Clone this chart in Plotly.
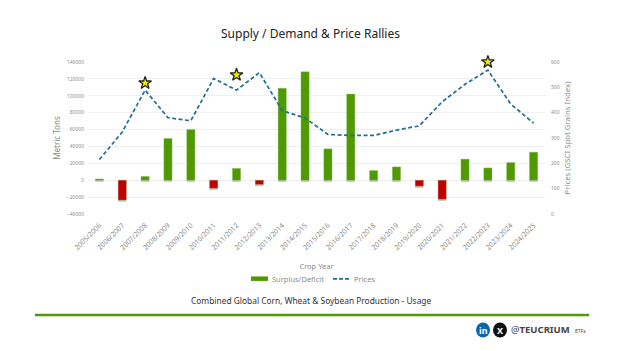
import plotly.graph_objects as go

W, H = 624, 351
L, R, T, B = 88, 545, 62, 213.7

years = ["2005/2006","2006/2007","2007/2008","2008/2009","2009/2010","2010/2011","2011/2012",
         "2012/2013","2013/2014","2014/2015","2015/2016","2016/2017","2017/2018","2018/2019",
         "2019/2020","2020/2021","2021/2022","2022/2023","2023/2024","2024/2025"]
surplus = [1500,-23500,4500,49500,60000,-9500,14000,-5000,109000,128500,37200,102000,11500,
           15800,-7000,-22500,25000,14600,21000,33200]
prices = [215,324,489,380,368,535,489,558,408,379,314,310,310,331,348,443,512,568,434,359]
star_years = ["2007/2008","2011/2012","2022/2023"]
star_levels = [517,549,600]
left_ticks = [-40000,-20000,0,20000,40000,60000,80000,100000,120000,140000]
right_ticks = [0,100,200,300,400,500,600]

GREEN, RED, BLUE, GREY = "#4F9A00", "#C00000", "#1F6E96", "#8C8C8C"
FONT = "Noto Sans"

def px(x): return (x - L) / (R - L)
def py(y): return (B - y) / (B - T)

fig = go.Figure()
# soft drop shadow under each bar
fig.add_trace(go.Bar(x=years, y=[v - 2000 if v < 0 else -2000 for v in surplus],
                     marker=dict(color="rgba(110,110,110,0.4)", line_width=0),
                     showlegend=False, hoverinfo="skip", width=0.36, offsetgroup="a"))
fig.add_trace(go.Bar(x=years, y=surplus, name="Surplus/Deficit", showlegend=False,
                     marker=dict(color=[GREEN if v >= 0 else RED for v in surplus],
                                 line=dict(color="rgba(150,190,110,0.5)", width=0.7)),
                     width=0.36, offsetgroup="a"))
fig.add_trace(go.Scatter(x=years, y=prices, name="Prices", yaxis="y2", mode="lines", showlegend=False,
                         line=dict(color=BLUE, width=1.7, dash="4px,2.5px")))
fig.add_trace(go.Scatter(x=star_years, y=star_levels, yaxis="y2", mode="markers", showlegend=False,
                         cliponaxis=False,
                         marker=dict(symbol="star", size=9.5, color="#F0F000",
                                     line=dict(color="#222222", width=1.3))))

shapes = [
    dict(type="line", xref="paper", yref="paper", x0=px(35), x1=px(589), y0=py(314.5), y1=py(314.5),
         line=dict(color=GREEN, width=2.6)),
    dict(type="circle", xref="paper", yref="paper", x0=px(476), x1=px(490), y0=py(337), y1=py(322),
         fillcolor="#0A66B0", line_width=0),
    dict(type="circle", xref="paper", yref="paper", x0=px(493), x1=px(507), y0=py(337), y1=py(322),
         fillcolor="#111111", line_width=0),
    # legend swatches
    dict(type="rect", xref="paper", yref="paper", x0=px(251), x1=px(268), y0=py(280.5), y1=py(276),
         fillcolor=GREEN, line_width=0),
    dict(type="line", xref="paper", yref="paper", x0=px(333), x1=px(349), y0=py(278.5), y1=py(278.5),
         line=dict(color=BLUE, width=1.7, dash="4px,2px")),
]

def note(x, y, text, size, color, anchor="center", **kw):
    return dict(xref="paper", yref="paper", x=px(x), y=py(y), text=text, showarrow=False,
                xanchor=anchor, yanchor="middle", font=dict(family=FONT, size=size, color=color), **kw)

annotations = [
    note(310, 34, "Supply / Demand &amp; Price Rallies", 12, "#222222"),
    note(310.5, 300, "Combined Global Corn, Wheat &amp; Soybean Production - Usage", 8.4, "#333333"),
    note(270, 278.5, "Surplus/Deficit", 7.5, GREY, anchor="left"),
    note(352, 278.5, "Prices", 7.5, GREY, anchor="left"),
    note(483, 329.5, "<b>in</b>", 9, "white"),
    note(500, 329.5, "<b>X</b>", 9, "white"),
    note(509, 329, "@<b>TEUCRIUM</b>", 9.5, "#444444", anchor="left"),
    note(573, 330, "ETFs", 5, "#444444", anchor="left"),
]

fig.update_layout(
    width=W, height=H, margin=dict(l=L, r=W - R, t=T, b=H - B, autoexpand=False),
    paper_bgcolor="white", plot_bgcolor="white", font=dict(family=FONT, color=GREY),
    barmode="overlay", shapes=shapes, annotations=annotations, showlegend=False,
    xaxis=dict(tickangle=-45, tickfont=dict(size=7, color=GREY), ticks="", showgrid=False,
               zeroline=False, showline=False, categoryorder="array", categoryarray=years,
               ticklabelstandoff=5,
               title=dict(text="Crop Year", font=dict(size=7.5, color=GREY), standoff=12)),
    yaxis=dict(range=[-40000, 140000], tickvals=left_ticks, tickformat="d", tickfont=dict(size=5, color=GREY),
               gridcolor="#EFEFEF", gridwidth=1, zeroline=False, ticklabelstandoff=3,
               title=dict(text="Metric Tons", font=dict(size=8, color=GREY), standoff=5)),
    yaxis2=dict(range=[0, 600], tickvals=right_ticks, overlaying="y", side="right", showgrid=False,
                zeroline=False, tickfont=dict(size=5, color=GREY), ticklabelstandoff=5,
                title=dict(text="Prices (GSCI Spot Grains Index)", font=dict(size=7.8, color=GREY), standoff=5)),
)
fig.write_html("out.html", config=dict(displayModeBar=False),
               post_script="document.body.style.margin='0';window.dispatchEvent(new Event('resize'));")
